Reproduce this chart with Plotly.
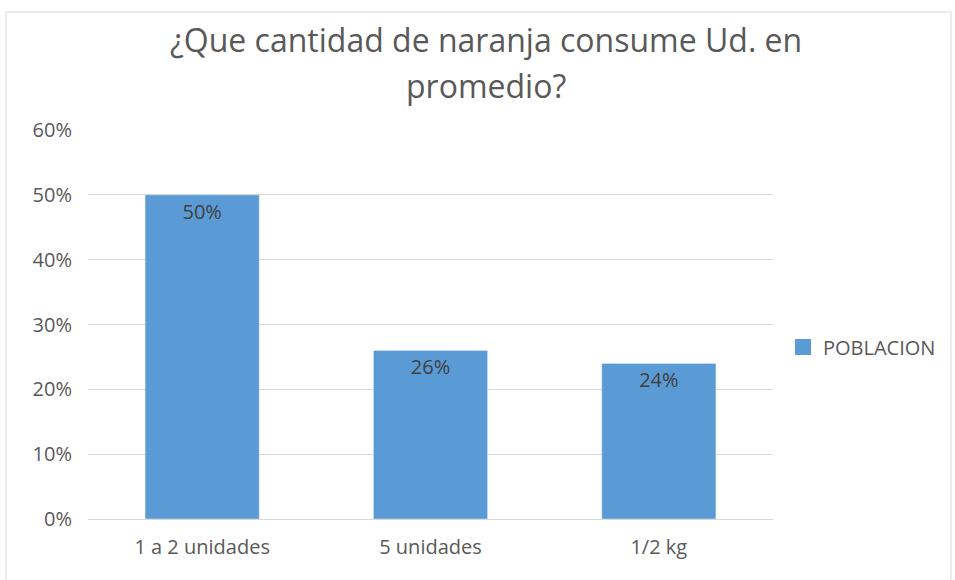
import plotly.graph_objects as go

categories = ["1 a 2 unidades", "5 unidades", "1/2 kg"]
values = [0.50, 0.26, 0.24]
labels = ["50%", "26%", "24%"]
tick_vals = [0, 0.1, 0.2, 0.3, 0.4, 0.5, 0.6]
tick_text = ["0%", "10%", "20%", "30%", "40%", "50%", "60%"]
series_name = "POBLACION"
title_line1 = "¿Que cantidad de naranja consume Ud. en"
title_line2 = "promedio?"

W, H = 955, 580
L, R, T, B = 88, 182, 130, 61
pw, ph = W - L - R, H - T - B
BAR_COLOR = "#5B9BD5"
FONT = "Open Sans"

def px(x):
    return (x - L) / pw

def py(y):
    return (H - B - y) / ph

fig = go.Figure()
fig.add_trace(go.Bar(
    x=categories, y=values, name=series_name,
    marker=dict(color=BAR_COLOR),
    text=labels, textposition="inside", insidetextanchor="end",
    textfont=dict(color="#404040", size=20, family=FONT),
    showlegend=False,
))
# legend entry with a larger square swatch
fig.add_trace(go.Scatter(
    x=[None], y=[None], mode="markers", name=series_name,
    marker=dict(symbol="square", size=16, color=BAR_COLOR),
    showlegend=True,
))

fig.update_layout(
    width=W, height=H,
    margin=dict(l=L, r=R, t=T, b=B),
    paper_bgcolor="white", plot_bgcolor="white",
    font=dict(family=FONT, color="#595959", size=20),
    bargap=0.5,
    showlegend=True,
    legend=dict(x=px(783), y=py(347), xanchor="left", yanchor="middle",
                font=dict(size=20, color="#595959"), itemsizing="trace",
                itemwidth=30, bgcolor="rgba(0,0,0,0)"),
    xaxis=dict(showgrid=False, showline=False, ticks="", tickfont=dict(size=20),
               ticklabelstandoff=14),
    yaxis=dict(range=[0, 0.6], tickvals=tick_vals, ticktext=tick_text,
               showgrid=True, gridcolor="#D9D9D9", gridwidth=1,
               zeroline=True, zerolinecolor="#D9D9D9", zerolinewidth=1,
               showline=False, ticks="", ticklabelstandoff=15,
               tickfont=dict(size=20)),
    uniformtext=dict(minsize=10, mode="show"),
)

fig.add_annotation(text=title_line1, xref="paper", yref="paper",
                   x=px(486), y=py(40), xanchor="center", yanchor="middle",
                   showarrow=False, font=dict(size=32, color="#595959", family=FONT))
fig.add_annotation(text=title_line2, xref="paper", yref="paper",
                   x=px(486), y=py(85), xanchor="center", yanchor="middle",
                   showarrow=False, font=dict(size=32, color="#595959", family=FONT))

fig.add_shape(type="rect", xref="paper", yref="paper",
              x0=px(6), x1=px(951), y0=py(600), y1=py(12),
              line=dict(color="#D9D9D9", width=1), fillcolor="rgba(0,0,0,0)", layer="below")

fig.write_html("out.html", config={"displayModeBar": False},
               post_script="document.body.style.margin='0';")
